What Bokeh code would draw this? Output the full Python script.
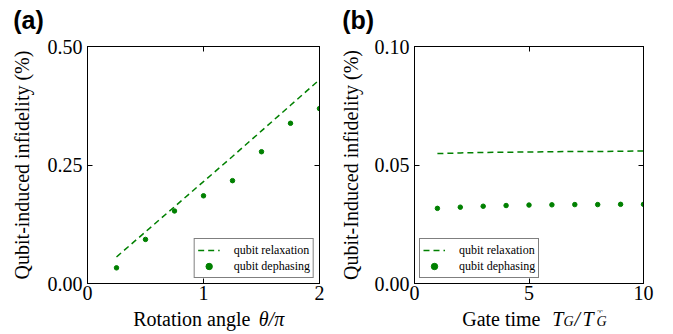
from bokeh.plotting import figure
from bokeh.layouts import row, column
from bokeh.models import (Label, Legend, LegendItem, LinearAxis, FixedTicker,
                          NumeralTickFormatter, CustomJSTickFormatter, Range1d)
from bokeh.embed import file_html
from bokeh.resources import INLINE

# ---------------- data ----------------
# panel (a): rotation angle theta/pi
angle = [0.25, 0.5, 0.75, 1.0, 1.25, 1.5, 1.75, 2.0]
relax_a = [0.056, 0.109, 0.162, 0.215, 0.268, 0.322, 0.376, 0.430]
dephase_a = [0.033, 0.093, 0.153, 0.185, 0.217, 0.278, 0.338, 0.369]

# panel (b): gate time T_G / T_G*
gate_time = [1, 2, 3, 4, 5, 6, 7, 8, 9, 10]
relax_b = [0.0548, 0.0551, 0.0553, 0.0554, 0.0555, 0.0556, 0.0557, 0.0557, 0.0558, 0.0559]
dephase_b = [0.0317, 0.0322, 0.0326, 0.0329, 0.0331, 0.0332, 0.0333, 0.0333, 0.0334, 0.0334]

xticks_a = [0, 1, 2]
yticks_a = [0, 0.25, 0.5]
xticks_b = [0, 5, 10]
yticks_b = [0, 0.05, 0.1]

GREEN = "#008000"
SERIF = "Liberation Serif"
SANS = "Liberation Sans"

WA, WB = 336, 337
TAG_H, MAIN_H, XL_H = 34, 276, 24
BORD_A = (87, 17)   # frame left / right borders, panel (a)
BORD_B = (78, 30)   # frame left / right borders, panel (b)


def style(p, xt, yt, ylabel, ystand):
    p.xgrid.visible = False
    p.ygrid.visible = False
    p.outline_line_color = "black"
    p.outline_line_width = 1
    p.xaxis.ticker = FixedTicker(ticks=xt)
    p.yaxis.ticker = FixedTicker(ticks=yt)
    p.yaxis.formatter = NumeralTickFormatter(format="0.00")
    p.yaxis.axis_label = ylabel
    p.yaxis.axis_label_standoff = ystand
    p.xaxis.major_label_standoff = 2
    p.yaxis.major_label_standoff = 5
    p.add_layout(LinearAxis(ticker=FixedTicker(ticks=xt), major_label_standoff=0,
                            formatter=CustomJSTickFormatter(code="return ''")), "above")
    p.add_layout(LinearAxis(ticker=FixedTicker(ticks=yt), major_label_standoff=0,
                            formatter=CustomJSTickFormatter(code="return ''")), "right")
    for ax in p.axis:
        ax.major_tick_in = 5
        ax.major_tick_out = 0
        ax.minor_tick_line_color = None
        ax.axis_line_color = "black"
        ax.major_tick_line_color = "black"
        ax.major_label_text_font = SERIF
        ax.major_label_text_font_size = "20px"
        ax.major_label_text_color = "black"
        ax.axis_label_text_font = SERIF
        ax.axis_label_text_font_size = "20px"
        ax.axis_label_text_font_style = "normal"
        ax.axis_label_text_color = "black"


def add_legend(p, r1, r2, loc):
    leg = Legend(items=[LegendItem(label="qubit relaxation", renderers=[r1]),
                        LegendItem(label="qubit dephasing", renderers=[r2])],
                 location=loc)
    leg.label_text_font = SERIF
    leg.label_text_font_size = "12px"
    leg.label_text_line_height = 1.0
    leg.label_text_color = "black"
    leg.glyph_width = 22
    leg.glyph_height = 16
    leg.label_height = 16
    leg.label_standoff = 14
    leg.spacing = 0
    leg.padding = 3
    leg.margin = 5
    leg.border_line_color = "black"
    leg.border_line_width = 1
    leg.background_fill_alpha = 1
    p.add_layout(leg)


def strip(w, h, bord, top=0):
    # text strip whose frame mirrors the main frame; data units = pixels of the strip
    s = figure(width=w, height=h,
               x_range=Range1d(bord[0], w - bord[1]), y_range=Range1d(h, top),
               output_backend="svg", toolbar_location=None,
               x_axis_location=None, y_axis_location=None,
               min_border_left=bord[0], min_border_right=bord[1],
               min_border_top=top, min_border_bottom=0)
    s.xgrid.visible = False
    s.ygrid.visible = False
    s.outline_line_color = None
    s.title.visible = False
    return s


def tag_strip(w, bord, text):
    s = strip(w, TAG_H, bord, top=TAG_H - 1)
    s.title.visible = True
    s.title.text = text
    s.title.text_font = SANS
    s.title.text_font_size = "25px"
    s.title.text_font_style = "bold"
    s.title.text_color = "black"
    s.title.align = "left"
    s.title.standoff = 0
    return s


def lab(p, x, y, text, size="20px", style_="normal"):
    p.add_layout(Label(x=x, y=y, text=text, text_font=SERIF, text_font_size=size,
                       text_font_style=style_, text_baseline="alphabetic",
                       text_align="left", text_color="black"))


# ---------------- panel (a) ----------------
pa = figure(width=WA, height=MAIN_H, x_range=(0, 2), y_range=(0, 0.5),
            output_backend="svg", toolbar_location=None,
            min_border_left=BORD_A[0], min_border_right=BORD_A[1],
            min_border_top=12, min_border_bottom=27)
ra1 = pa.line(angle, relax_a, line_color=GREEN, line_width=1.5, line_dash="6 4")
ra2 = pa.scatter(angle, dephase_a, size=4.5, color=GREEN)
style(pa, xticks_a, yticks_a, "Qubit-induced infidelity (%)", 12)
add_legend(pa, ra1, ra2, "bottom_right")

tag_a = tag_strip(WA, BORD_A, "(a)")
tag_a.title.offset = 12.7 - BORD_A[0]
xl_a = strip(WA, XL_H, BORD_A)
lab(xl_a, 132.7, 8, "Rotation angle")
lab(xl_a, 258.3, 8, "θ/π", style_="italic")

# ---------------- panel (b) ----------------
pb = figure(width=WB, height=MAIN_H, x_range=(0, 10), y_range=(0, 0.1),
            output_backend="svg", toolbar_location=None,
            min_border_left=BORD_B[0], min_border_right=BORD_B[1],
            min_border_top=12, min_border_bottom=27)
rb1 = pb.line(gate_time, relax_b, line_color=GREEN, line_width=1.5, line_dash="6 4")
rb2 = pb.scatter(gate_time, dephase_b, size=4.5, color=GREEN)
style(pb, xticks_b, yticks_b, "Qubit-Induced infidelity (%)", 10)
add_legend(pb, rb1, rb2, "bottom_left")

tag_b = tag_strip(WB, BORD_B, "(b)")
tag_b.title.offset = 5.7 - BORD_B[0]
xl_b = strip(WB, XL_H, BORD_B)
lab(xl_b, 125.7, 8, "Gate time")
lab(xl_b, 215.7, 8, "T", style_="italic")
lab(xl_b, 227.0, 11, "G", size="14px", style_="italic")
lab(xl_b, 238.0, 8, "/", style_="italic")
lab(xl_b, 246.0, 8, "T", style_="italic")
lab(xl_b, 260.0, 2, "*", size="14px")
lab(xl_b, 260.0, 11, "G", size="14px", style_="italic")

layout = row(column(tag_a, pa, xl_a), column(tag_b, pb, xl_b))
open("out.html", "w").write(file_html(layout, INLINE))
